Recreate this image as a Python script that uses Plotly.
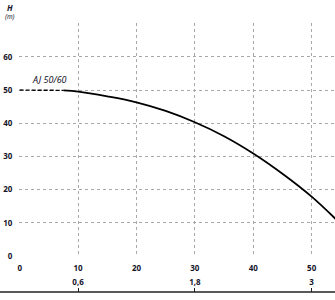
import plotly.graph_objects as go

# Flow Q (l/min) and head H (m)
q_dashed = [0, 3, 7.5]
h_dashed = [50.0, 50.0, 49.9]
q_solid = [7.5, 10, 15, 20, 25, 30, 35, 40, 45, 50, 54.2]
h_solid = [49.9, 49.55, 48.1, 46.3, 43.7, 40.3, 36.1, 30.9, 24.8, 17.9, 11.0]

x_ticks = [0, 10, 20, 30, 40, 50]
y_ticks = [0, 10, 20, 30, 40, 50, 60, 70]
y_ticktext = ["0", "10", "20", "30", "40", "50", "60", ""]
q2_ticks = [10, 30, 50]
q2_text = ["0,6", "1,8", "3"]
model_label = "AJ 50/60"

FONT = "Noto Sans"
TXT = "#15152a"
GRID = "#a8a8a8"
W, H = 335, 300
ML, MR, MT, MB = 19, 0, 23, 8
plot_w = W - ML - MR
plot_h = H - MT - MB
y_bottom_px = 256.7
ydom0 = (H - MB - y_bottom_px) / plot_h
XR = [-0.12, 54]
YR = [-0.2, 70.2]

fig = go.Figure()
fig.add_trace(go.Scatter(x=q_dashed, y=h_dashed, mode="lines",
                         line=dict(color="black", width=1.4, dash="4px,2px"),
                         hoverinfo="skip", showlegend=False))
fig.add_trace(go.Scatter(x=q_solid, y=h_solid, mode="lines",
                         line=dict(color="black", width=1.8, shape="spline", smoothing=1),
                         hoverinfo="skip", showlegend=False))
# invisible trace for the secondary axis
fig.add_trace(go.Scatter(x=XR, y=[None, None], xaxis="x2", mode="lines",
                         hoverinfo="skip", showlegend=False))

fig.update_layout(
    width=W, height=H,
    margin=dict(l=ML, r=MR, t=MT, b=MB),
    paper_bgcolor="white", plot_bgcolor="white",
    font=dict(family=FONT, color=TXT),
    xaxis=dict(range=XR, anchor="y", tickvals=x_ticks,
               showgrid=True, gridcolor=GRID, gridwidth=1, griddash="dot",
               zeroline=False, showline=False, layer="below traces",
               ticks="outside", ticklen=4, tickcolor="rgba(0,0,0,0)",
               tickfont=dict(size=8, family=FONT, weight="bold", color=TXT)),
    xaxis2=dict(range=XR, overlaying="x", anchor="free", position=0, side="top",
                tickvals=q2_ticks, ticktext=q2_text,
                showgrid=False, zeroline=False, showline=False,
                ticks="outside", ticklen=4, tickwidth=1, tickcolor="#222",
                tickfont=dict(size=8, family=FONT, weight="bold", color=TXT)),
    yaxis=dict(range=YR, domain=[ydom0, 1], tickvals=y_ticks, ticktext=y_ticktext,
               showgrid=True, gridcolor=GRID, gridwidth=1, griddash="dot",
               zeroline=False, showline=False,
               ticks="outside", ticklen=4, tickcolor="rgba(0,0,0,0)",
               tickfont=dict(size=8, family=FONT, weight="bold", color=TXT)),
    shapes=[dict(type="line", xref="paper", yref="paper",
                 x0=-ML / plot_w, x1=1, y0=0, y1=0,
                 line=dict(color="#222", width=1.5))],
    annotations=[
        dict(text="<b><i>H</i></b>", xref="paper", yref="paper",
             x=(10 - ML) / plot_w, y=(H - MB - 7) / plot_h,
             xanchor="center", yanchor="middle", showarrow=False,
             font=dict(size=8, family=FONT, color=TXT)),
        dict(text="<i>(m)</i>", xref="paper", yref="paper",
             x=(10 - ML) / plot_w, y=(H - MB - 16) / plot_h,
             xanchor="center", yanchor="middle", showarrow=False,
             font=dict(size=6.5, family=FONT, color=TXT)),
        dict(text="<i>" + model_label + "</i>", xref="x", yref="y",
             x=5.1, y=53.2, xanchor="center", yanchor="middle", showarrow=False,
             font=dict(size=9, family=FONT, color=TXT)),
    ],
)

fig.write_html("out.html")
